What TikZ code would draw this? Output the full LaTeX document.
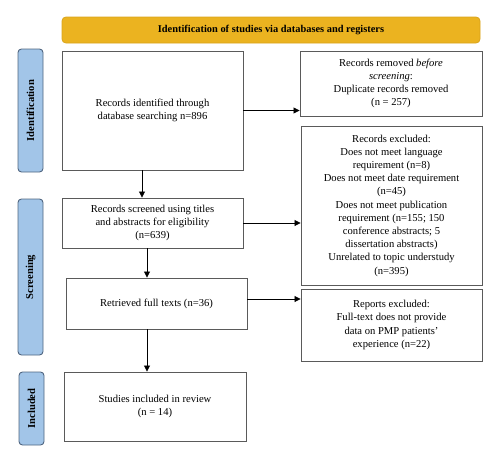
\documentclass[tikz,border=0pt]{standalone}
\usepackage{fontspec}
\setmainfont{Liberation Serif}
\usetikzlibrary{arrows.meta}
\definecolor{gold}{HTML}{EBB320}
\definecolor{goldedge}{HTML}{D9A41C}
\definecolor{sideblue}{HTML}{A2C5E8}
\definecolor{sideedge}{HTML}{4F6580}
\definecolor{boxedge}{HTML}{5A5A5A}
\begin{document}
\begin{tikzpicture}[x=1pt,y=-1pt,
  flowbox/.style={draw=boxedge,line width=0.9pt,fill=white,align=center,inner sep=2pt,
     font=\fontsize{10.6}{13.2}\selectfont},
  sidebox/.style={draw=sideedge,line width=0.9pt,fill=sideblue,rounded corners=3.5pt},
  sidetext/.style={rotate=90,font=\bfseries\fontsize{10.6}{12}\selectfont},
  flowarrow/.style={draw=black,line width=0.8pt,-{Triangle[length=6pt,width=6pt]}}]
\useasboundingbox (0,0) rectangle (500,463);
% banner
\node[draw=goldedge,line width=0.8pt,fill=gold,rounded corners=4pt,minimum width=418pt,minimum height=26pt,
  font=\bfseries\fontsize{10.4}{12}\selectfont] (banner) at (271,30) {Identification of studies via databases and registers};
% side labels
\draw[sidebox] (18,49) rectangle (43,172);
\node[sidetext] (lid) at (30.5,110.5) {Identification};
\draw[sidebox] (18,199) rectangle (43,355);
\node[sidetext] (lsc) at (30.5,277) {Screening};
\draw[sidebox] (19,372) rectangle (44,445);
\node[sidetext] (lin) at (31.5,408.5) {Included};
% boxes
\node[flowbox,minimum width=181pt,minimum height=119pt] (A) at (152.5,110.5)
  {Records identified through\\database searching n=896};
\node[flowbox,minimum width=182pt,minimum height=65pt] (B) at (391,83.5)
  {Records removed \textit{before}\\\textit{screening}:\\Duplicate records removed\\(n = 257)};
\node[flowbox,minimum width=181pt,minimum height=159pt] (C) at (391.5,205.5)
  {Records excluded:\\Does not meet language\\requirement (n=8)\\Does not meet date requirement\\(n=45)\\Does not meet publication\\requirement (n=155; 150\\conference abstracts; 5\\dissertation abstracts)\\Unrelated to topic understudy\\(n=395)};
\node[flowbox,minimum width=181pt,minimum height=50pt] (D) at (152.5,223)
  {Records screened using titles\\and abstracts for eligibility\\(n=639)};
\node[flowbox,minimum width=181pt,minimum height=51pt] (E) at (156.5,303.5)
  {Retrieved full texts (n=36)};
\node[flowbox,minimum width=181pt,minimum height=72pt] (F) at (391.5,325)
  {Reports excluded:\\Full-text does not provide\\data on PMP patients'\\experience (n=22)};
\node[flowbox,minimum width=182pt,minimum height=69pt] (G) at (155,406.5)
  {Studies included in review\\(n = 14)};
% arrows
\draw[flowarrow] (A.east) -- (A.east -| B.west);
\draw[flowarrow] (A.south -| 142,0) -- (D.north -| 142,0);
\draw[flowarrow] (D.east) -- (D.east -| C.west);
\draw[flowarrow] (D.south -| 147,0) -- (E.north -| 147,0);
\draw[flowarrow] (E.east |- 0,299) -- (F.west |- 0,299);
\draw[flowarrow] (E.south -| 147,0) -- (G.north -| 147,0);
\end{tikzpicture}
\end{document}
